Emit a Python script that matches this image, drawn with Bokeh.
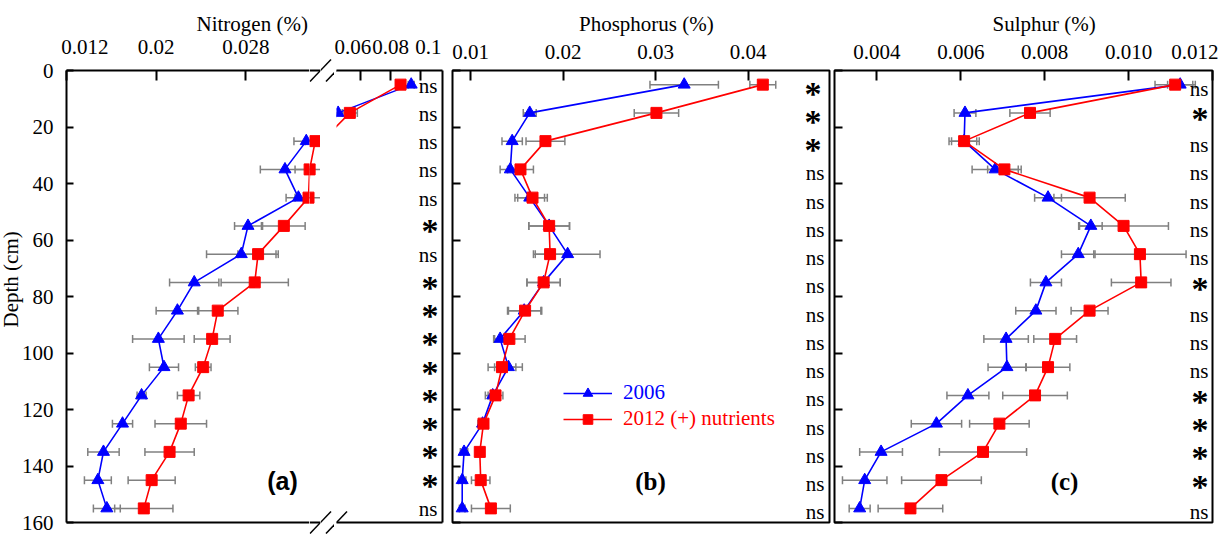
import numpy as np
from bokeh.plotting import figure
from bokeh.layouts import row
from bokeh.models import (Range1d, FixedTicker, LinearAxis, Label, Arrow, Legend,
                          LegendItem, Title)
from bokeh.core.properties import value
from bokeh.embed import file_html
from bokeh.resources import INLINE

# ---------------- data ----------------
depth = [5, 15, 25, 35, 45, 55, 65, 75, 85, 95, 105, 115, 125, 135, 145, 155]
depth_ticks = [0, 20, 40, 60, 80, 100, 120, 140, 160]
depth_tick_labels = ["0", "20", "40", "60", "80", "100", "120", "140", "160"]

n_2006 = [0.0938, 0.0451, 0.0334, 0.0315, 0.0327, 0.0282, 0.0276, 0.0234,
          0.0219, 0.0202, 0.0207, 0.0187, 0.0170, 0.0153, 0.0148, 0.0156]
n_2006_err = [0.002, 0.003, 0.0011, 0.0022, 0.0011, 0.0012, 0.0031, 0.0022,
              0.0019, 0.0023, 0.0013, 0.0004, 0.0009, 0.0014, 0.0012, 0.0012]
n_2012 = [0.0867, 0.0529, 0.0342, 0.0337, 0.0336, 0.0314, 0.0291, 0.0288,
          0.0255, 0.0250, 0.0242, 0.0229, 0.0222, 0.0212, 0.0196, 0.0189]
n_2012_err = [0.003, 0.005, 0.0009, 0.0013, 0.0012, 0.0019, 0.0018, 0.0030,
              0.0018, 0.0016, 0.0007, 0.0010, 0.0023, 0.0022, 0.0021, 0.0026]
n_sig = ["ns", "ns", "ns", "ns", "ns", "*", "ns", "*",
         "*", "*", "*", "*", "*", "*", "*", "ns"]

p_2006 = [0.0331, 0.0164, 0.0145, 0.0143, 0.0164, 0.0185, 0.0205, 0.0179,
          0.0158, 0.0132, 0.0141, 0.0124, 0.0113, 0.0093, 0.0091, 0.0091]
p_2006_err = [0.0037, 0.0007, 0.0011, 0.0011, 0.0016, 0.0022, 0.0035, 0.0018,
              0.0018, 0.0006, 0.0015, 0.0008, 0.0005, 0.0004, 0.0004, 0.0003]
p_2012 = [0.0416, 0.0301, 0.0181, 0.0154, 0.0167, 0.0185, 0.0186, 0.0179,
          0.0159, 0.0142, 0.0134, 0.0127, 0.0114, 0.0110, 0.0111, 0.0122]
p_2012_err = [0.0014, 0.0024, 0.0021, 0.0014, 0.0016, 0.0022, 0.0018, 0.0018,
              0.0018, 0.0017, 0.0015, 0.0008, 0.0005, 0.0004, 0.0010, 0.0021]
p_sig = ["*", "*", "*", "ns", "ns", "ns", "ns", "ns",
         "ns", "ns", "ns", "ns", "ns", "ns", "ns", "ns"]

s_2006 = [0.01123, 0.00610, 0.00608, 0.00682, 0.00808, 0.00910, 0.00880, 0.00803,
          0.00779, 0.00708, 0.00710, 0.00617, 0.00542, 0.00410, 0.00371, 0.00359]
s_2006_err = [0.0003, 0.00026, 0.0003, 0.00055, 0.00032, 0.00027, 0.0004, 0.00037,
              0.00048, 0.00053, 0.00045, 0.0005, 0.0006, 0.00051, 0.00053, 0.00025]
s_2012 = [0.01111, 0.00765, 0.00608, 0.00704, 0.00907, 0.00988, 0.01027, 0.01030,
          0.00907, 0.00825, 0.00808, 0.00777, 0.00692, 0.00653, 0.00554, 0.00480]
s_2012_err = [0.00048, 0.00048, 0.00036, 0.0004, 0.00085, 0.00107, 0.0011, 0.00071,
              0.00044, 0.00051, 0.00052, 0.00077, 0.00071, 0.00104, 0.00095, 0.00077]
s_sig = ["ns", "*", "ns", "ns", "ns", "ns", "ns", "*",
         "ns", "ns", "ns", "*", "*", "*", "*", "ns"]

n_ticks_low = [0.012, 0.02, 0.028]
n_labels_low = ["0.012", "0.02", "0.028"]
n_ticks_high = [0.06, 0.08, 0.1]
n_labels_high = ["0.06", "0.08", "0.1"]
p_ticks = [0.01, 0.02, 0.03, 0.04]
p_labels = ["0.01", "0.02", "0.03", "0.04"]
s_ticks = [0.004, 0.006, 0.008, 0.010, 0.012]
s_labels = ["0.004", "0.006", "0.008", "0.010", "0.012"]

series_names = ["2006", "2012 (+) nutrients"]

# ---------------- style ----------------
SERIF = "Liberation Serif"
FS = "21px"
NB = "\u00a0"
BLUE, RED, GREY = "#0000ff", "#ff0000", "#808080"
H, TOP, BOTTOM = 534, 70, 12
FH = H - TOP - BOTTOM
KY = FH / 160.0
TICK_STANDOFF = 12


def make_fig(width, xr, mbl, mbr, outline, yr=(160, 0), top=TOP, bottom=BOTTOM, free=False):
    p = figure(width=width, height=H, x_range=Range1d(*xr), y_range=Range1d(*yr),
               x_axis_location=None, y_axis_location=None, title=None,
               output_backend="svg", toolbar_location=None,
               min_border_left=mbl, min_border_right=mbr,
               min_border_top=top, min_border_bottom=bottom)
    p.grid.visible = False
    p.outline_line_color = "black" if outline else None
    p.outline_line_width = 2
    p.background_fill_color = "white"
    p.border_fill_color = "white"
    if free:
        p.frame_align = False
    return p


def top_axis(p, ticks, labels, pad, line):
    ov = {}
    for t, l in zip(ticks, labels):
        lead, trail = pad.get(t, (0, 0))
        ov[t] = NB * lead + l + NB * trail
    ax = LinearAxis(ticker=FixedTicker(ticks=ticks), major_label_overrides=ov,
                    major_tick_in=10, major_tick_out=0, minor_tick_in=0, minor_tick_out=0,
                    major_tick_line_width=2, major_tick_line_color="black",
                    axis_line_width=2, axis_line_color="black" if line else None,
                    major_label_text_font=SERIF, major_label_text_font_size=FS,
                    major_label_text_color="black", major_label_standoff=TICK_STANDOFF)
    p.add_layout(ax, "above")


def left_axis(p, labels_on, line):
    ov = {t: (l if labels_on else "") for t, l in zip(depth_ticks, depth_tick_labels)}
    ax = LinearAxis(ticker=FixedTicker(ticks=depth_ticks), major_label_overrides=ov,
                    major_tick_in=7 if labels_on else 8, major_tick_out=0,
                    minor_tick_in=0, minor_tick_out=0,
                    major_tick_line_width=2, major_tick_line_color="black",
                    axis_line_width=2, axis_line_color="black" if line else None,
                    major_label_text_font=SERIF,
                    major_label_text_font_size=FS if labels_on else "0px",
                    major_label_text_color="black",
                    major_label_standoff=13 if labels_on else 0)
    p.add_layout(ax, "left")


def line_axis(p, side):
    ax = LinearAxis(ticker=FixedTicker(ticks=[]), major_tick_in=0, major_tick_out=0,
                    minor_tick_in=0, minor_tick_out=0, major_label_standoff=0,
                    major_label_text_font_size="0px", axis_label_standoff=0,
                    axis_line_width=2, axis_line_color="black")
    p.add_layout(ax, side)


def draw(p, x6, e6, x12, e12):
    for x, e in ((x6, e6), (x12, e12)):
        lo = [a - b for a, b in zip(x, e)]
        hi = [a + b for a, b in zip(x, e)]
        p.segment(x0=lo, y0=depth, x1=hi, y1=depth, line_color=GREY, line_width=1.5)
        p.scatter(x=lo + hi, y=depth + depth, marker="dash", angle=np.pi / 2, size=8,
                  line_color=GREY, line_width=1.5)
    l6 = p.line(x6, depth, line_color=BLUE, line_width=1.6)
    s6 = p.scatter(x6, depth, marker="triangle", size=12, fill_color=BLUE, line_color=BLUE)
    l12 = p.line(x12, depth, line_color=RED, line_width=1.6)
    s12 = p.scatter(x12, depth, marker="square", size=11, fill_color=RED, line_color=RED)
    return (l6, s6), (l12, s12)


def sig_text(p, xend, sig, dx_ns, dx_st, dy_ns, dy_st):
    ns_y = [d for d, s in zip(depth, sig) if s == "ns"]
    st_y = [d for d, s in zip(depth, sig) if s == "*"]
    p.text(x=[xend] * len(ns_y), y=ns_y, text=["ns"] * len(ns_y),
           text_font=value(SERIF), text_font_size=value(FS), text_color="black",
           text_align="right", text_baseline="alphabetic", x_offset=dx_ns, y_offset=dy_ns)
    p.text(x=[xend] * len(st_y), y=st_y, text=["*"] * len(st_y),
           text_font=value(SERIF), text_font_size=value("34px"), text_font_style="bold",
           text_color="black", text_align="right", text_baseline="alphabetic",
           x_offset=dx_st, y_offset=dy_st)


def set_title(p, text, offset, standoff):
    p.title = Title(text=text, align="left", offset=offset, standoff=standoff,
                    text_font=SERIF, text_font_size=FS, text_font_style="normal",
                    text_color="black")


def panel_tag(p, x, y, text, font):
    p.add_layout(Label(x=x, y=y, x_units="screen", y_units="screen", text=text,
                       text_font=font, text_font_size="25px", text_font_style="bold",
                       text_color="black", text_align="center", text_baseline="middle"))


# axis-break marks: two parallel slashes over top and bottom frame lines (canvas px)
BREAK_X = (320, 336)
BREAK_Y = (TOP, H - BOTTOM)


def break_marks(p, frame_left, frame_bottom):
    for cx in BREAK_X:
        for cy in BREAK_Y:
            p.add_layout(Arrow(x_start=cx - 10.5 - frame_left, y_start=frame_bottom - (cy + 11),
                               x_end=cx + 10.5 - frame_left, y_end=frame_bottom - (cy - 11),
                               start_units="screen", end_units="screen", start=None, end=None,
                               line_color="black", line_width=1.5))


def frame_edges(p, xr):
    p.segment(x0=[xr[0], xr[0]], y0=[0, 160], x1=[xr[1], xr[1]], y1=[0, 160],
              line_color="black", line_width=2)


# strips between the two halves of panel (a) need a full-height frame
HAS_FA = "frame_align" in figure(width=10, height=10).properties()
if HAS_FA:
    Y_STRIP, S_TOP, S_BOT, S_FB = (160 + BOTTOM / KY, -TOP / KY), 0, 0, H
else:
    Y_STRIP, S_TOP, S_BOT, S_FB = (160, 0), TOP, BOTTOM, H - BOTTOM

# ---------------- panel (a): broken x axis ----------------
KA1 = 11250.0   # px per unit, low part
KA2 = 1500.0    # px per unit, high part
a1_lo = 0.012
xa1 = (a1_lo, a1_lo + 244 / KA1)            # frame 65..309
xg1 = (xa1[1], a1_lo + 255 / KA1)           # strip 309..320
xa2 = (0.06 - 24 / KA2, 0.06 + 82 / KA2)    # frame 336..442

pa1 = make_fig(309, xa1, 65, 0, False)
top_axis(pa1, n_ticks_low, n_labels_low, {0.012: (7, 0)}, True)
left_axis(pa1, True, True)
line_axis(pa1, "below")
draw(pa1, n_2006, n_2006_err, n_2012, n_2012_err)
set_title(pa1, "Nitrogen (%)", 130, -9)
pa1.add_layout(Title(text="Depth (cm)", align="left", offset=195, standoff=-8,
                     text_font=SERIF, text_font_size=FS, text_font_style="normal",
                     text_color="black"), "left")
panel_tag(pa1, 216, 42, "(a)", "Liberation Sans")

pg1 = make_fig(11, xg1, 0, 0, False, Y_STRIP, S_TOP, S_BOT, HAS_FA)
draw(pg1, n_2006, n_2006_err, n_2012, n_2012_err)
frame_edges(pg1, xg1)
break_marks(pg1, 309, S_FB)

pg2 = make_fig(14, (0, 1), 0, 0, False, Y_STRIP, S_TOP, S_BOT, HAS_FA)
break_marks(pg2, 320, S_FB)

pa2 = make_fig(113, xa2, 2, 5, False)
top_axis(pa2, n_ticks_high, n_labels_high, {0.06: (0, 3), 0.1: (3, 0)}, True)
line_axis(pa2, "below")
line_axis(pa2, "right")
draw(pa2, n_2006, n_2006_err, n_2012, n_2012_err)
sig_text(pa2, xa2[1], n_sig, -5, -4, 1, 5)
break_marks(pa2, 336, H - BOTTOM)

# ---------------- panel (b) ----------------
xb = (0.00805, 0.04881)
pb = make_fig(384, xb, 5, 2, True)
top_axis(pb, p_ticks, p_labels, {}, False)
left_axis(pb, False, False)
(b6, b12) = draw(pb, p_2006, p_2006_err, p_2012, p_2012_err)
sig_text(pb, xb[1], p_sig, -5, -8, 4, 8.5)
set_title(pb, "Phosphorus (%)", 126.5, 12)
panel_tag(pb, 198, 41, "(b)", SERIF)
for (rs, name, col, ly) in ((b6, series_names[0], BLUE, 117), (b12, series_names[1], RED, 91)):
    leg = Legend(items=[LegendItem(label=value(name), renderers=list(rs))],
                 location=(111, ly), orientation="vertical",
                 border_line_color=None, background_fill_alpha=0,
                 padding=0, margin=0, spacing=0,
                 glyph_width=49, glyph_height=24, label_height=24, label_standoff=11,
                 label_text_font=SERIF, label_text_font_size=FS, label_text_color=col)
    pb.add_layout(leg)

# ---------------- panel (c) ----------------
xc = (0.00299, 0.012)
pc = make_fig(387, xc, 3, 6, True)
top_axis(pc, s_ticks, s_labels, {}, False)
left_axis(pc, False, False)
draw(pc, s_2006, s_2006_err, s_2012, s_2012_err)
sig_text(pc, xc[1], s_sig, -4, -4, 4, 6)
set_title(pc, "Sulphur (%)", 158, 12)
panel_tag(pc, 230, 41, "(c)", SERIF)

layout = row(pa1, pg1, pg2, pa2, pb, pc)
open("out.html", "w").write(file_html(layout, INLINE))
